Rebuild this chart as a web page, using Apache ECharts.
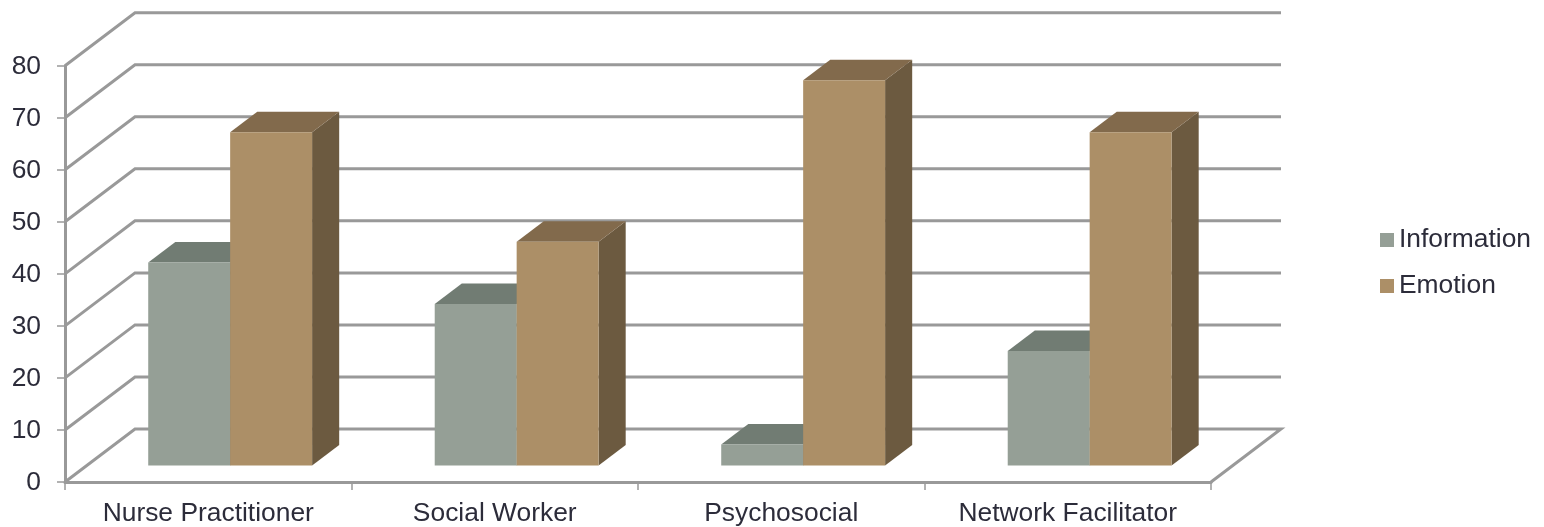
<!DOCTYPE html>
<html>
<head>
<meta charset="utf-8">
<style>html,body{margin:0;padding:0;background:#fff}#chart{width:1544px;height:527px}</style>
<script src="https://cdn.jsdelivr.net/npm/echarts@6/dist/echarts.min.js"></script>
</head>
<body>
<div id="chart"></div>
<script>
// Roles compared on the category axis
const categories = ['Nurse Practitioner', 'Social Worker', 'Psychosocial', 'Network Facilitator'];
const information = [39, 31, 4, 22];
const emotion = [64, 43, 74, 64];
const yTicks = [0, 10, 20, 30, 40, 50, 60, 70, 80];

// Oblique projection of the chart floor: how far the back wall sits from the front plane
const WALL_DX = 70;
const WALL_DY = 53;
// Bars stand part way into the floor
const BAR_OFFSET = 0.313;
const BAR_DEPTH = 0.387;
const BAR_WIDTH_RATIO = 0.286;

const TEXT = '#2c2c3a';
const GRID = '#999999';
const FONT_SIZE = 26.4;

function poly(points, fill) {
  return { type: 'polygon', shape: { points: points }, style: { fill: fill, stroke: null } };
}

// Draws a box for one value; side is -1 for the left bar of a pair and 0 for the right one
function boxRenderer(side, colors) {
  return function (params, api) {
    const top = api.coord([api.value(0), api.value(1)]);
    const base = api.coord([api.value(0), 0]);
    const w = api.size([1, 0])[0] * BAR_WIDTH_RATIO;
    const ox = WALL_DX * BAR_OFFSET, oy = WALL_DY * BAR_OFFSET;
    const dx = WALL_DX * BAR_DEPTH, dy = WALL_DY * BAR_DEPTH;
    const x0 = top[0] + ox + side * w, x1 = x0 + w;
    const yT = top[1] - oy, yB = base[1] - oy;
    return {
      type: 'group',
      children: [
        poly([[x1, yB], [x1 + dx, yB - dy], [x1 + dx, yT - dy], [x1, yT]], colors.side),
        poly([[x0, yT], [x0 + dx, yT - dy], [x1 + dx, yT - dy], [x1, yT]], colors.top),
        poly([[x0, yT], [x1, yT], [x1, yB], [x0, yB]], colors.front)
      ]
    };
  };
}

// Back wall gridlines with the diagonals running back from the value axis;
// the lowest one also closes the floor on the right
function wallRenderer(params, api) {
  const v = api.value(1);
  const y = api.coord([0, v])[1];
  const cs = params.coordSys;
  const left = cs.x, right = cs.x + cs.width;
  const style = { stroke: GRID, lineWidth: 3, fill: null, lineJoin: 'miter' };
  const points = [[left, y], [left + WALL_DX, y - WALL_DY], [right + WALL_DX, y - WALL_DY]];
  if (v === 0) points.push([right, y]);
  return { type: 'polyline', shape: { points: points }, style: style };
}

const chart = echarts.init(document.getElementById('chart'), null, { renderer: 'canvas' });
chart.setOption({
  animation: false,
  backgroundColor: '#fff',
  textStyle: { fontFamily: '"Liberation Sans", Arial, sans-serif' },
  grid: { left: 65, right: 333, top: 65.7, bottom: 43, containLabel: false },
  legend: {
    data: ['Information', 'Emotion'],
    orient: 'vertical',
    left: 1375,
    top: 222,
    icon: 'rect',
    itemWidth: 14,
    itemHeight: 14,
    itemGap: 20,
    textStyle: { fontSize: FONT_SIZE, color: TEXT, fontFamily: '"Liberation Sans", Arial, sans-serif' }
  },
  xAxis: {
    type: 'category',
    data: categories,
    boundaryGap: true,
    axisLine: { show: true, lineStyle: { color: GRID, width: 3 } },
    axisTick: { show: true, alignWithLabel: false, length: 8, lineStyle: { color: GRID, width: 1.5 } },
    axisLabel: { color: TEXT, fontSize: FONT_SIZE, margin: 19, interval: 0 }
  },
  yAxis: {
    type: 'value',
    min: 0,
    max: 80,
    interval: 10,
    axisLine: { show: true, onZero: false, lineStyle: { color: GRID, width: 3 } },
    axisTick: { show: true, length: 8, lineStyle: { color: GRID, width: 1.5 } },
    axisLabel: { color: TEXT, fontSize: FONT_SIZE, margin: 24, verticalAlign: 'top', lineHeight: 2 },
    splitLine: { show: false }
  },
  series: [
    {
      name: 'Wall',
      type: 'custom',
      z: 1,
      silent: true,
      renderItem: wallRenderer,
      encode: { x: 0, y: 1 },
      data: yTicks.map(v => [0, v])
    },
    {
      name: 'Information',
      type: 'custom',
      z: 3,
      itemStyle: { color: '#959f96' },
      renderItem: boxRenderer(-1, { front: '#959f96', top: '#717c73', side: '#5f6a61' }),
      encode: { x: 0, y: 1 },
      data: information.map((v, i) => [i, v])
    },
    {
      name: 'Emotion',
      type: 'custom',
      z: 4,
      itemStyle: { color: '#ac8f67' },
      renderItem: boxRenderer(0, { front: '#ac8f67', top: '#826a4c', side: '#6c5a40' }),
      encode: { x: 0, y: 1 },
      data: emotion.map((v, i) => [i, v])
    }
  ]
});
</script>
</body>
</html>
